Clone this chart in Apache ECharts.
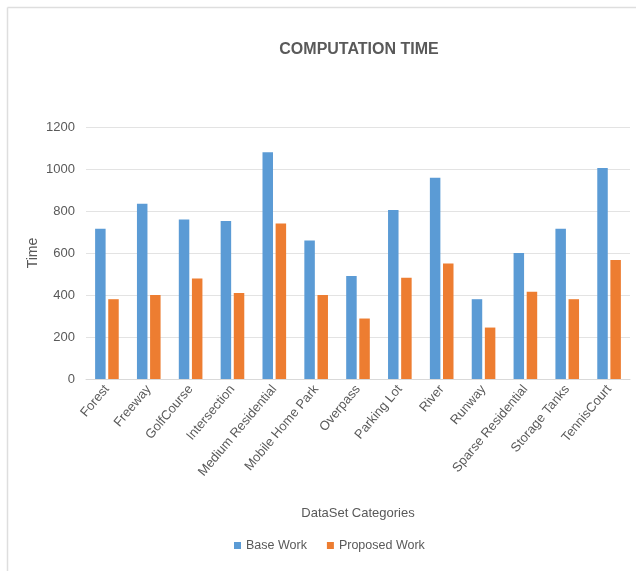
<!DOCTYPE html>
<html>
<head>
<meta charset="utf-8">
<script src="https://cdn.jsdelivr.net/npm/echarts@6/dist/echarts.min.js"></script>
<style>
  html, body { margin: 0; padding: 0; background: #fff; }
  #chart { width: 636px; height: 571px; }
</style>
</head>
<body>
<div id="chart"></div>
<script>
// 计算时间
var categories = ['Forest', 'Freeway', 'GolfCourse', 'Intersection', 'Medium Residential', 'Mobile Home Park',
  'Overpass', 'Parking Lot', 'River', 'Runway', 'Sparse Residential', 'Storage Tanks', 'TennisCourt'];
var baseWork = [715, 835, 760, 752, 1080, 660, 490, 805, 958, 380, 600, 715, 1005];
var proposedWork = [380, 400, 478, 410, 740, 400, 288, 482, 550, 245, 415, 380, 567];

var textColor = '#595959';
var fontName = 'Liberation Sans Narrow, Liberation Sans, Arial';

var option = {
  backgroundColor: '#fff',
  title: {
    text: 'COMPUTATION TIME',
    left: 354,
    top: 37,
    textAlign: 'center',
    textStyle: {
      fontFamily: fontName,
      fontSize: 16,
      fontWeight: 'bold',
      color: textColor
    }
  },
  graphic: [
    {
      type: 'line',
      shape: { x1: 7.5, y1: 7.5, x2: 636, y2: 7.5 },
      style: { stroke: '#dedede', lineWidth: 1.5 }
    },
    {
      type: 'line',
      shape: { x1: 7.5, y1: 7.5, x2: 7.5, y2: 571 },
      style: { stroke: '#dedede', lineWidth: 1.5 }
    }
  ],
  legend: {
    bottom: 14,
    left: 229,
    itemWidth: 7,
    itemHeight: 7,
    itemGap: 20,
    icon: 'rect',
    textStyle: { color: textColor, fontSize: 12.5, fontFamily: fontName },
    data: ['Base Work', 'Proposed Work']
  },
  grid: {
    left: 86,
    right: 6,
    top: 127,
    height: 252
  },
  xAxis: {
    type: 'category',
    data: categories,
    name: 'DataSet Categories',
    nameLocation: 'middle',
    nameGap: 128,
    nameMoveOverlap: false,
    nameTextStyle: { color: textColor, fontSize: 13, fontFamily: fontName },
    axisLine: { lineStyle: { color: '#d9d9d9' } },
    axisTick: { show: false },
    axisLabel: {
      rotate: 50,
      interval: 0,
      color: textColor,
      fontSize: 13,
      margin: 8,
      fontFamily: fontName
    }
  },
  yAxis: {
    type: 'value',
    min: 0,
    max: 1200,
    interval: 200,
    name: 'Time',
    nameLocation: 'middle',
    nameGap: 46,
    nameMoveOverlap: false,
    nameTextStyle: { color: textColor, fontSize: 14, fontFamily: 'Liberation Sans, Arial' },
    axisLine: { show: false },
    axisTick: { show: false },
    axisLabel: {
      color: textColor,
      fontSize: 13,
      margin: 11,
      fontFamily: fontName,
      formatter: function (v) { return String(v); }
    },
    splitLine: { lineStyle: { color: '#e3e3e3' } }
  },
  series: [
    {
      name: 'Base Work',
      type: 'bar',
      data: baseWork,
      barWidth: 10.5,
      barGap: '25%',
      itemStyle: { color: '#5b9bd5' }
    },
    {
      name: 'Proposed Work',
      type: 'bar',
      data: proposedWork,
      barWidth: 10.5,
      itemStyle: { color: '#ed7d31' }
    }
  ]
};

var chartDom = document.getElementById('chart');
var chart = echarts.init(chartDom);
chart.setOption(option);
</script>
</body>
</html>
